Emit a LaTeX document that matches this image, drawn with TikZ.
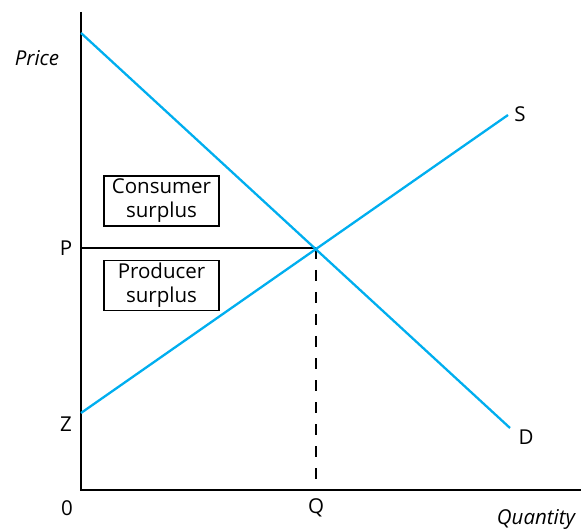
\documentclass[tikz,border=0pt]{standalone}
\usepackage{fontspec}
\setmainfont{Open Sans}
\begin{document}
\begin{tikzpicture}[x=1pt,y=-1pt,
  curve/.style={draw=curveblue,line width=2.3pt},
  axis/.style={draw=black,line width=1.4pt},
  lbl/.style={font=\fontsize{20.5}{24}\selectfont,inner sep=0pt},
  italbl/.style={font=\fontsize{20.5}{24}\selectfont\itshape,inner sep=0pt},
  surplusbox/.style={draw=black,line width=1.1pt,minimum width=115pt,minimum height=50pt,
    align=center,font=\fontsize{20.5}{24}\selectfont,inner sep=0pt}]
\definecolor{curveblue}{RGB}{0,174,239}
\useasboundingbox (0,0) rectangle (581,529);
% axes
\coordinate (origin) at (81,490);
\coordinate (ytop) at (81,12);
\coordinate (xend) at (581,490);
\draw[axis] (ytop) -- (origin) -- (xend);
% demand and supply
\coordinate (d0) at (81,33);
\coordinate (d1) at (510,428);
\coordinate (s0) at (81,413);
\coordinate (s1) at (508,115);
\coordinate (eq) at (316,248);
\coordinate (pax) at (81,248);
\coordinate (qax) at (316,490);
% equilibrium price and quantity
\draw[black,line width=1.1pt] (pax) -- (eq);
\draw[black,line width=1.1pt,dash pattern=on 11pt off 11pt] (eq) -- (qax);
\draw[curve] (d0) -- (d1);
\draw[curve] (s0) -- (s1);
% labels
\node[italbl] (price) at (37,58) {Price};
\node[lbl] (plbl) at (66,248) {P};
\node[lbl] (zlbl) at (66,424) {Z};
\node[lbl] (olbl) at (67,508) {0};
\node[lbl] (qlbl) at (316,508) {Q};
\node[italbl] (qty) at (536,519) {Quantity};
\node[lbl] (slbl) at (520,114) {S};
\node[lbl] (dlbl) at (526,437) {D};
\node[surplusbox] (cs) at (161.5,201) {Consumer\\surplus};
\node[surplusbox] (ps) at (161.5,285.5) {Producer\\surplus};
\end{tikzpicture}
\end{document}
